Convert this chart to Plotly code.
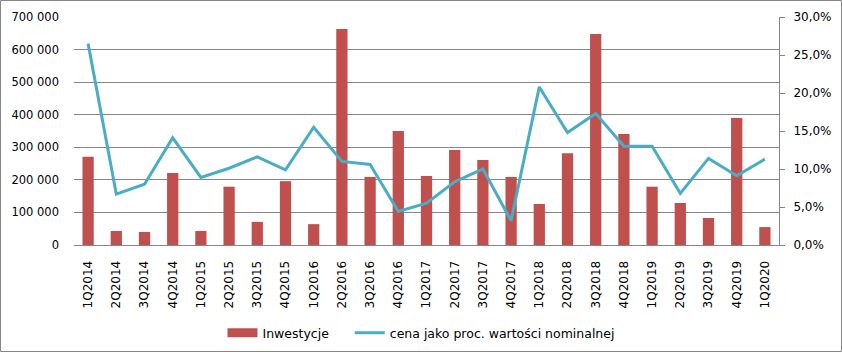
import plotly.graph_objects as go

quarters = ["1Q2014","2Q2014","3Q2014","4Q2014","1Q2015","2Q2015","3Q2015","4Q2015",
            "1Q2016","2Q2016","3Q2016","4Q2016","1Q2017","2Q2017","3Q2017","4Q2017",
            "1Q2018","2Q2018","3Q2018","4Q2018","1Q2019","2Q2019","3Q2019","4Q2019","1Q2020"]
inwestycje = [271000, 43000, 40000, 221000, 43000, 179000, 71000, 196000,
              64000, 663000, 209000, 350000, 212000, 292000, 261000, 209000,
              126000, 282000, 648000, 341000, 179000, 129000, 83000, 390000, 55000]
cena_pct = [0.265, 0.067, 0.080, 0.141, 0.089, 0.101, 0.116, 0.099,
            0.155, 0.110, 0.106, 0.044, 0.055, 0.083, 0.100, 0.032,
            0.208, 0.148, 0.173, 0.130, 0.130, 0.068, 0.114, 0.091, 0.113]

left_ticks = [0, 100000, 200000, 300000, 400000, 500000, 600000, 700000]
right_ticks = [0, 0.05, 0.10, 0.15, 0.20, 0.25, 0.30]

BAR_C = "#C0504D"
LINE_C = "#4BACC6"
FONT = "DejaVu Sans"
fig = go.Figure()
fig.add_trace(go.Bar(x=quarters, y=inwestycje, name="Inwestycje", showlegend=False,
                     legendgroup="inw",
                     marker=dict(color=BAR_C, line=dict(width=0)), yaxis="y"))
# legend swatch for the bars (wide rectangle like the original)
fig.add_trace(go.Scatter(x=[None], y=[None], name="Inwestycje\u00a0\u00a0\u00a0\u00a0", mode="lines",
                         legendgroup="inw", line=dict(color=BAR_C, width=9), yaxis="y"))
fig.add_trace(go.Scatter(x=quarters, y=cena_pct, name="cena jako proc. wartości nominalnej",
                         mode="lines", line=dict(color=LINE_C, width=3), yaxis="y2"))

L, R, T, B = 74, 63, 17, 107
W, H = 842, 352
pw, ph = W - L - R, H - T - B

fig.update_layout(
    width=W, height=H,
    margin=dict(l=L, r=R, t=T, b=B, autoexpand=False),
    paper_bgcolor="white", plot_bgcolor="white",
    separators=", ",
    font=dict(family=FONT, size=12, color="black"),
    bargap=0.6,
    showlegend=True,
    legend=dict(orientation="h", xref="container", x=0.5, xanchor="center",
                yref="container", y=(H - 318) / H, yanchor="top",
                font=dict(family=FONT, size=12.5), itemwidth=30, tracegroupgap=0),
    xaxis=dict(type="category", tickangle=-90, showgrid=False, ticks="",
               showline=True, linecolor="#868686", linewidth=1,
               ticklabelstandoff=10, automargin=False,
               tickfont=dict(family=FONT, size=12)),
    yaxis=dict(range=[0, 700000], tickvals=left_ticks, tickformat=",.0f",
               showgrid=True, gridcolor="#868686", gridwidth=1, zeroline=False,
               showline=False, ticks="", ticklabelstandoff=14, automargin=False,
               tickfont=dict(family=FONT, size=11.5)),
    yaxis2=dict(range=[0, 0.30], tickvals=right_ticks, tickformat=".1%",
                overlaying="y", side="right", showgrid=False, zeroline=False,
                showline=True, linecolor="#868686", linewidth=1,
                ticks="outside", ticklen=5, tickcolor="#868686",
                ticklabelstandoff=6, automargin=False,
                tickfont=dict(family=FONT, size=12)),
)
fig.add_shape(type="rect", xref="paper", yref="paper",
              x0=(0.5 - L) / pw, x1=(W - 0.5 - L) / pw,
              y0=-(B - 0.5) / ph, y1=(ph + T - 0.5) / ph,
              line=dict(color="#868686", width=1), fillcolor="rgba(0,0,0,0)", layer="below")
fig.write_html("out.html")
